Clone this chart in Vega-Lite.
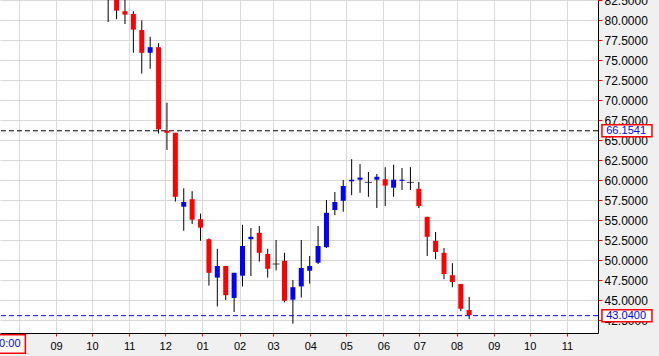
{
  "$schema": "https://vega.github.io/schema/vega-lite/v6.json",
  "width": 598,
  "height": 333,
  "autosize": {"type": "none"},
  "padding": {"left": 0, "top": 0, "right": 61, "bottom": 23},
  "background": "#f0f0f0",
  "config": {
    "view": {"fill": "white", "stroke": null},
    "scale": {"continuousPadding": 0},
    "axis": {
      "labelFont": "Liberation Sans",
      "labelFontSize": 11,
      "labelColor": "black",
      "tickColor": "red",
      "domainColor": "black",
      "gridColor": "#d9d9d9",
      "title": null
    }
  },
  "datasets": {
    "candles": [
      {"d": "2014-10-14T12:00:00Z", "o": 85.5, "h": 86.0, "l": 79.75, "c": 82.9, "dir": "down"},
      {"d": "2014-10-21T12:00:00Z", "o": 82.9, "h": 83.5, "l": 80.1, "c": 81.17, "dir": "down"},
      {"d": "2014-10-28T12:00:00Z", "o": 81.1, "h": 82.7, "l": 79.5, "c": 80.67, "dir": "down"},
      {"d": "2014-11-04T12:00:00Z", "o": 80.75, "h": 81.1, "l": 75.9, "c": 78.8, "dir": "down"},
      {"d": "2014-11-11T12:00:00Z", "o": 78.75, "h": 79.96, "l": 73.3, "c": 75.9, "dir": "down"},
      {"d": "2014-11-18T12:00:00Z", "o": 75.9, "h": 77.9, "l": 73.9, "c": 76.6, "dir": "up"},
      {"d": "2014-11-25T12:00:00Z", "o": 76.6, "h": 77.1, "l": 65.8, "c": 66.33, "dir": "down"},
      {"d": "2014-12-02T12:00:00Z", "o": 66.16, "h": 69.66, "l": 63.75, "c": 65.9, "dir": "down"},
      {"d": "2014-12-09T12:00:00Z", "o": 65.9, "h": 65.9, "l": 57.3, "c": 57.9, "dir": "down"},
      {"d": "2014-12-16T12:00:00Z", "o": 56.66, "h": 58.96, "l": 53.66, "c": 57.25, "dir": "up"},
      {"d": "2014-12-23T12:00:00Z", "o": 57.6, "h": 58.6, "l": 54.5, "c": 55.04, "dir": "down"},
      {"d": "2014-12-30T12:00:00Z", "o": 55.1, "h": 55.8, "l": 52.4, "c": 54.04, "dir": "down"},
      {"d": "2015-01-06T12:00:00Z", "o": 52.6, "h": 52.7, "l": 46.8, "c": 48.4, "dir": "down"},
      {"d": "2015-01-13T12:00:00Z", "o": 47.8, "h": 51.4, "l": 44.2, "c": 49.25, "dir": "up"},
      {"d": "2015-01-20T12:00:00Z", "o": 49.25, "h": 49.25, "l": 45.0, "c": 45.6, "dir": "down"},
      {"d": "2015-01-27T12:00:00Z", "o": 45.25, "h": 48.4, "l": 43.5, "c": 48.4, "dir": "up"},
      {"d": "2015-02-03T12:00:00Z", "o": 48.04, "h": 54.4, "l": 46.7, "c": 51.75, "dir": "up"},
      {"d": "2015-02-10T12:00:00Z", "o": 52.6, "h": 54.0, "l": 48.0, "c": 52.9, "dir": "up"},
      {"d": "2015-02-17T12:00:00Z", "o": 53.4, "h": 54.25, "l": 49.8, "c": 50.9, "dir": "down"},
      {"d": "2015-02-24T12:00:00Z", "o": 50.75, "h": 51.4, "l": 47.8, "c": 48.9, "dir": "down"},
      {"d": "2015-03-03T12:00:00Z", "o": 49.5, "h": 52.5, "l": 48.7, "c": 49.5, "dir": "flat"},
      {"d": "2015-03-10T12:00:00Z", "o": 49.9, "h": 50.9, "l": 44.7, "c": 44.9, "dir": "down"},
      {"d": "2015-03-17T12:00:00Z", "o": 45.04, "h": 47.5, "l": 42.04, "c": 46.6, "dir": "up"},
      {"d": "2015-03-24T12:00:00Z", "o": 46.7, "h": 52.5, "l": 45.3, "c": 49.0, "dir": "up"},
      {"d": "2015-03-31T12:00:00Z", "o": 48.66, "h": 50.5, "l": 47.04, "c": 49.25, "dir": "up"},
      {"d": "2015-04-07T12:00:00Z", "o": 49.66, "h": 54.25, "l": 49.5, "c": 51.75, "dir": "up"},
      {"d": "2015-04-14T12:00:00Z", "o": 51.6, "h": 57.5, "l": 51.5, "c": 55.9, "dir": "up"},
      {"d": "2015-04-21T12:00:00Z", "o": 56.25, "h": 58.5, "l": 55.6, "c": 57.25, "dir": "up"},
      {"d": "2015-04-28T12:00:00Z", "o": 57.4, "h": 60.0, "l": 56.04, "c": 59.25, "dir": "up"},
      {"d": "2015-05-05T12:00:00Z", "o": 59.84, "h": 62.6, "l": 58.1, "c": 60.03, "dir": "up"},
      {"d": "2015-05-12T12:00:00Z", "o": 60.04, "h": 62.0, "l": 58.4, "c": 60.3, "dir": "up"},
      {"d": "2015-05-19T12:00:00Z", "o": 59.7, "h": 61.0, "l": 57.9, "c": 59.7, "dir": "flat"},
      {"d": "2015-05-26T12:00:00Z", "o": 60.04, "h": 60.75, "l": 56.5, "c": 60.4, "dir": "up"},
      {"d": "2015-06-02T12:00:00Z", "o": 60.1, "h": 61.6, "l": 56.75, "c": 59.3, "dir": "down"},
      {"d": "2015-06-09T12:00:00Z", "o": 59.04, "h": 61.9, "l": 57.9, "c": 60.04, "dir": "up"},
      {"d": "2015-06-16T12:00:00Z", "o": 59.9, "h": 61.5, "l": 58.75, "c": 60.04, "dir": "up"},
      {"d": "2015-06-23T12:00:00Z", "o": 59.7, "h": 61.6, "l": 58.75, "c": 59.7, "dir": "flat"},
      {"d": "2015-06-30T12:00:00Z", "o": 58.9, "h": 59.75, "l": 56.5, "c": 56.75, "dir": "down"},
      {"d": "2015-07-07T12:00:00Z", "o": 55.4, "h": 55.4, "l": 50.5, "c": 52.9, "dir": "down"},
      {"d": "2015-07-14T12:00:00Z", "o": 52.4, "h": 53.5, "l": 50.1, "c": 51.0, "dir": "down"},
      {"d": "2015-07-21T12:00:00Z", "o": 50.9, "h": 51.5, "l": 47.6, "c": 48.25, "dir": "down"},
      {"d": "2015-07-28T12:00:00Z", "o": 48.1, "h": 49.6, "l": 46.6, "c": 47.25, "dir": "down"},
      {"d": "2015-08-04T12:00:00Z", "o": 47.0, "h": 47.0, "l": 43.6, "c": 43.9, "dir": "down"},
      {"d": "2015-08-11T12:00:00Z", "o": 43.75, "h": 45.4, "l": 42.6, "c": 43.1, "dir": "down"}
    ],
    "levels": [
      {"price": 66.1541, "label": "66.1541", "kind": "prev"},
      {"price": 43.04, "label": "43.0400", "kind": "last"}
    ],
    "cursor": [
      {"label": "00:00"}
    ]
  },
  "data": {"name": "candles"},
  "layer": [
    {
      "mark": {"type": "rule", "color": "black", "strokeWidth": 1},
      "encoding": {
        "x": {"field": "d", "type": "temporal",
              "scale": {"type": "utc", "nice": false, "padding": 0, "domain": [{"year": 2014, "month": 7, "date": 16, "hours": 7, "utc": true}, {"year": 2015, "month": 11, "date": 26, "hours": 22, "utc": true}]},
              "axis": {"orient": "bottom", "format": "%m", "tickCount": {"interval": "month", "step": 1}, "tickSize": 3, "labelPadding": 4, "labelFlush": false, "labelOverlap": false}},
        "y": {"field": "l", "type": "quantitative",
              "scale": {"domain": [40.875, 82.5], "nice": false, "zero": false, "padding": 0},
              "axis": {"orient": "right", "values": [42.5, 45, 47.5, 50, 52.5, 55, 57.5, 60, 62.5, 65, 67.5, 70, 72.5, 75, 77.5, 80, 82.5],
                       "format": ".4f", "tickSize": 4, "labelPadding": 2, "labelFontSize": 12, "labelOverlap": false, "labelBound": false, "labelFlush": false}},
        "y2": {"field": "h"}
      }
    },
    {
      "data": {"name": "levels"},
      "transform": [{"filter": "datum.kind == 'prev'"}],
      "mark": {"type": "rule", "strokeDash": [5, 3], "strokeWidth": 1, "color": "black"},
      "encoding": {
        "y": {"field": "price", "type": "quantitative",
              "axis": {"orient": "right", "values": [42.5, 45, 47.5, 50, 52.5, 55, 57.5, 60, 62.5, 65, 67.5, 70, 72.5, 75, 77.5, 80, 82.5],
                       "format": ".4f", "tickSize": 4, "labelPadding": 2, "labelFontSize": 12, "labelOverlap": false, "labelBound": false, "labelFlush": false}}
      }
    },
    {
      "data": {"name": "levels"},
      "transform": [{"filter": "datum.kind == 'last'"}],
      "mark": {"type": "rule", "strokeDash": [5, 3], "strokeWidth": 1, "color": "#0000ff"},
      "encoding": {
        "y": {"field": "price", "type": "quantitative",
              "axis": {"orient": "right", "values": [42.5, 45, 47.5, 50, 52.5, 55, 57.5, 60, 62.5, 65, 67.5, 70, 72.5, 75, 77.5, 80, 82.5],
                       "format": ".4f", "tickSize": 4, "labelPadding": 2, "labelFontSize": 12, "labelOverlap": false, "labelBound": false, "labelFlush": false}}
      }
    },
    {
      "mark": {"type": "bar", "width": 5},
      "encoding": {
        "x": {"field": "d", "type": "temporal",
              "axis": {"orient": "bottom", "format": "%m", "tickCount": {"interval": "month", "step": 1}, "tickSize": 3, "labelPadding": 4, "labelFlush": false, "labelOverlap": false}},
        "y": {"field": "o", "type": "quantitative",
              "axis": {"orient": "right", "values": [42.5, 45, 47.5, 50, 52.5, 55, 57.5, 60, 62.5, 65, 67.5, 70, 72.5, 75, 77.5, 80, 82.5],
                       "format": ".4f", "tickSize": 4, "labelPadding": 2, "labelFontSize": 12, "labelOverlap": false, "labelBound": false, "labelFlush": false}},
        "y2": {"field": "c"},
        "color": {"field": "dir", "type": "nominal", "scale": {"domain": ["up", "down", "flat"], "range": ["#0000ff", "#ff0000", "#000000"]}, "legend": null}
      }
    },
    {
      "transform": [{"filter": "datum.dir == 'flat'"}],
      "mark": {"type": "tick", "orient": "horizontal", "size": 7, "thickness": 1, "color": "black"},
      "encoding": {
        "x": {"field": "d", "type": "temporal",
              "axis": {"orient": "bottom", "format": "%m", "tickCount": {"interval": "month", "step": 1}, "tickSize": 3, "labelPadding": 4, "labelFlush": false, "labelOverlap": false}},
        "y": {"field": "o", "type": "quantitative",
              "axis": {"orient": "right", "values": [42.5, 45, 47.5, 50, 52.5, 55, 57.5, 60, 62.5, 65, 67.5, 70, 72.5, 75, 77.5, 80, 82.5],
                       "format": ".4f", "tickSize": 4, "labelPadding": 2, "labelFontSize": 12, "labelOverlap": false, "labelBound": false, "labelFlush": false}}
      }
    },
    {
      "data": {"name": "levels"},
      "mark": {"type": "bar", "height": 12, "fill": "white", "stroke": "red", "strokeWidth": 1.5},
      "encoding": {
        "x": {"datum": {"year": 2015, "month": 11, "date": 30, "hours": 5, "utc": true}, "type": "temporal",
              "axis": {"orient": "bottom", "format": "%m", "tickCount": {"interval": "month", "step": 1}, "tickSize": 3, "labelPadding": 4, "labelFlush": false, "labelOverlap": false}},
        "x2": {"datum": {"year": 2016, "month": 1, "date": 10, "hours": 22, "utc": true}},
        "y": {"field": "price", "type": "quantitative",
              "axis": {"orient": "right", "values": [42.5, 45, 47.5, 50, 52.5, 55, 57.5, 60, 62.5, 65, 67.5, 70, 72.5, 75, 77.5, 80, 82.5],
                       "format": ".4f", "tickSize": 4, "labelPadding": 2, "labelFontSize": 12, "labelOverlap": false, "labelBound": false, "labelFlush": false}}
      }
    },
    {
      "data": {"name": "levels"},
      "mark": {"type": "text", "align": "left", "baseline": "middle", "font": "Liberation Sans", "fontSize": 11, "color": "#0000ff"},
      "encoding": {
        "x": {"datum": {"year": 2015, "month": 12, "date": 3, "hours": 19, "utc": true}, "type": "temporal",
              "axis": {"orient": "bottom", "format": "%m", "tickCount": {"interval": "month", "step": 1}, "tickSize": 3, "labelPadding": 4, "labelFlush": false, "labelOverlap": false}},
        "y": {"field": "price", "type": "quantitative",
              "axis": {"orient": "right", "values": [42.5, 45, 47.5, 50, 52.5, 55, 57.5, 60, 62.5, 65, 67.5, 70, 72.5, 75, 77.5, 80, 82.5],
                       "format": ".4f", "tickSize": 4, "labelPadding": 2, "labelFontSize": 12, "labelOverlap": false, "labelBound": false, "labelFlush": false}},
        "text": {"field": "label"}
      }
    },
    {
      "data": {"name": "cursor"},
      "mark": {"type": "rect", "fill": "white", "stroke": "red", "strokeWidth": 1.5},
      "encoding": {
        "x": {"datum": {"year": 2014, "month": 7, "date": 6, "utc": true}, "type": "temporal",
              "axis": {"orient": "bottom", "format": "%m", "tickCount": {"interval": "month", "step": 1}, "tickSize": 3, "labelPadding": 4, "labelFlush": false, "labelOverlap": false}},
        "x2": {"datum": {"year": 2014, "month": 8, "date": 6, "hours": 10, "utc": true}},
        "y": {"datum": 40.66, "type": "quantitative",
              "axis": {"orient": "right", "values": [42.5, 45, 47.5, 50, 52.5, 55, 57.5, 60, 62.5, 65, 67.5, 70, 72.5, 75, 77.5, 80, 82.5],
                       "format": ".4f", "tickSize": 4, "labelPadding": 2, "labelFontSize": 12, "labelOverlap": false, "labelBound": false, "labelFlush": false}},
        "y2": {"datum": 38.33}
      }
    },
    {
      "data": {"name": "cursor"},
      "mark": {"type": "text", "align": "right", "baseline": "middle", "font": "Liberation Sans", "fontSize": 11, "color": "#0000ff"},
      "encoding": {
        "x": {"datum": {"year": 2014, "month": 8, "date": 2, "hours": 10, "utc": true}, "type": "temporal",
              "axis": {"orient": "bottom", "format": "%m", "tickCount": {"interval": "month", "step": 1}, "tickSize": 3, "labelPadding": 4, "labelFlush": false, "labelOverlap": false}},
        "y": {"datum": 39.5, "type": "quantitative",
              "axis": {"orient": "right", "values": [42.5, 45, 47.5, 50, 52.5, 55, 57.5, 60, 62.5, 65, 67.5, 70, 72.5, 75, 77.5, 80, 82.5],
                       "format": ".4f", "tickSize": 4, "labelPadding": 2, "labelFontSize": 12, "labelOverlap": false, "labelBound": false, "labelFlush": false}},
        "text": {"field": "label"}
      }
    }
  ]
}
